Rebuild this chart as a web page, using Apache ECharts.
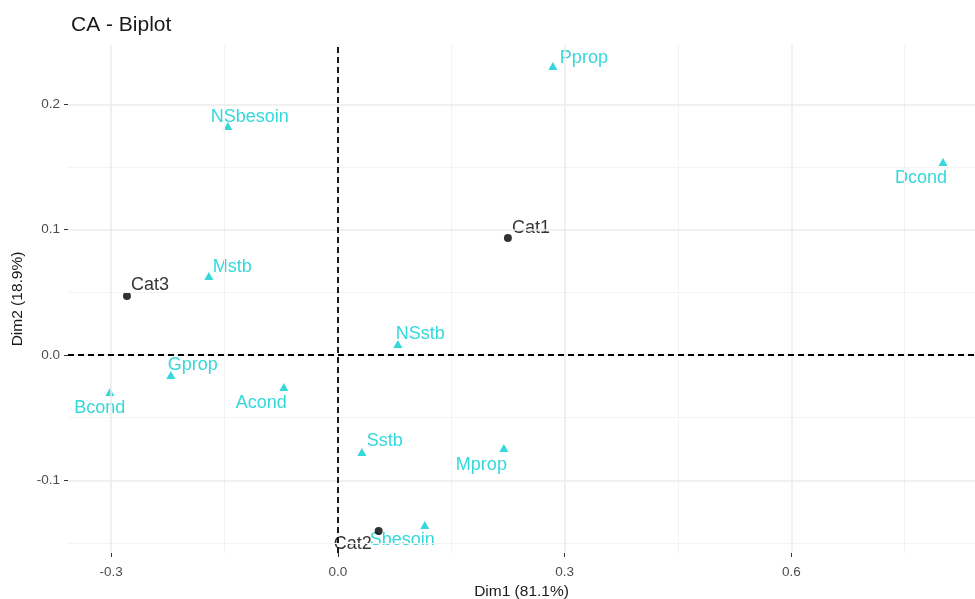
<!DOCTYPE html>
<html>
<head>
<meta charset="utf-8">
<script src="https://cdn.jsdelivr.net/npm/echarts@6/dist/echarts.min.js"></script>
<style>
	html, body { margin: 0; padding: 0; background: #fff; }
	#chart { width: 975px; height: 599px; }
</style>
</head>
<body>
<div id="chart"></div>
<script>
// row points (black)
var rowNames = ["Cat1", "Cat2", "Cat3"];
var rowDim1 = [0.225, 0.054, -0.279];
var rowDim2 = [0.0934, -0.1405, 0.047];

// column points (cyan)
var colNames = ["Pprop", "NSbesoin", "Dcond", "Mstb", "NSstb", "Gprop", "Bcond", "Acond", "Sstb", "Mprop", "Sbesoin"];
var colDim1 = [0.2845, -0.1456, 0.8007, -0.1707, 0.0794, -0.221, -0.3017, -0.0715, 0.0318, 0.2197, 0.1151];
var colDim2 = [0.2306, 0.1828, 0.154, 0.063, 0.0088, -0.016, -0.0295, -0.0255, -0.0774, -0.0742, -0.1357];

var xTicks = [-0.3, 0.0, 0.3, 0.6];
var yTicks = [-0.1, 0.0, 0.1, 0.2];
var xMinor = [-0.15, 0.15, 0.45, 0.75];
var yMinor = [-0.15, -0.05, 0.05, 0.15];

// label nudges (like ggrepel), px: [dx, dy, align]
var nudge = {
	Cat1: [4, -10, "left"],
	Cat2: [-7, 13, "right"],
	Cat3: [4, -11, "left"],
	Pprop: [7, -8, "left"],
	NSbesoin: [-17, -9, "left"],
	Dcond: [4, 16, "right"],
	Mstb: [4, -9, "left"],
	NSstb: [-2, -10, "left"],
	Gprop: [-3, -10, "left"],
	Bcond: [-10, 16, "center"],
	Acond: [3, 16, "right"],
	Sstb: [5, -11, "left"],
	Mprop: [3, 17, "right"],
	Sbesoin: [10, 15, "right"]
};

var myChart = echarts.init(document.getElementById("chart"));

function pts(names, d1, d2) {
	return names.map(function (n, i) {
		var o = nudge[n];
		return {
			name: n,
			value: [d1[i], d2[i]],
			label: { offset: [o[0], o[1]], align: o[2] }
		};
	});
}

var gridLines = [];
xMinor.forEach(function (v) { gridLines.push({ xAxis: v, lineStyle: { color: "#f3f3f3", width: 1, type: "solid" } }); });
yMinor.forEach(function (v) { gridLines.push({ yAxis: v, lineStyle: { color: "#f3f3f3", width: 1, type: "solid" } }); });
xTicks.forEach(function (v) { gridLines.push({ xAxis: v, lineStyle: { color: "#ebebeb", width: 1.5, type: "solid" } }); });
yTicks.forEach(function (v) { gridLines.push({ yAxis: v, lineStyle: { color: "#ebebeb", width: 1.5, type: "solid" } }); });

var option = {
	animation: false,
	title: {
		text: "CA - Biplot",
		left: 66,
		top: 10,
		textStyle: { fontFamily: "Liberation Sans", fontSize: 21, fontWeight: "normal", color: "#1a1a1a" }
	},
	grid: { left: 68, right: 0, top: 45, bottom: 46, containLabel: false, outerBoundsMode: "none" },
	xAxis: {
		type: "value",
		min: -0.357,
		max: 0.843,
		name: "Dim1 (81.1%)",
		nameLocation: "middle",
		nameGap: 30,
		nameTextStyle: { fontFamily: "Liberation Sans", fontSize: 15.5, color: "#1a1a1a" },
		axisLine: { show: false, onZero: false },
		splitLine: { show: false },
		axisTick: { show: true, length: 4, customValues: xTicks, lineStyle: { color: "#333" } },
		axisLabel: {
			customValues: xTicks,
			margin: 12,
			fontFamily: "Liberation Sans",
			fontSize: 13.5,
			color: "#4d4d4d",
			formatter: function (v) { return v.toFixed(1); }
		}
	},
	yAxis: {
		type: "value",
		min: -0.158,
		max: 0.2474,
		name: "Dim2 (18.9%)",
		nameLocation: "middle",
		nameGap: 37,
		nameTextStyle: { fontFamily: "Liberation Sans", fontSize: 15.5, color: "#1a1a1a" },
		axisLine: { show: false, onZero: false },
		splitLine: { show: false },
		axisTick: { show: true, length: 4, customValues: yTicks, lineStyle: { color: "#333" } },
		axisLabel: {
			customValues: yTicks,
			margin: 8,
			fontFamily: "Liberation Sans",
			fontSize: 13.5,
			color: "#4d4d4d",
			formatter: function (v) { return v.toFixed(1); }
		}
	},
	series: [
		{
			type: "scatter",
			data: [],
			silent: true,
			z: 0,
			markLine: {
				silent: true,
				symbol: "none",
				label: { show: false },
				data: gridLines
			}
		},
		{
			type: "scatter",
			data: [],
			silent: true,
			z: 1,
			markLine: {
				silent: true,
				symbol: "none",
				label: { show: false },
				lineStyle: { color: "#000", width: 1.8, type: [6, 4] },
				data: [{ xAxis: 0 }, { yAxis: 0 }]
			}
		},
		{
			name: "col",
			type: "scatter",
			symbol: "triangle",
			symbolSize: [9, 8],
			clip: false,
			z: 3,
			itemStyle: { color: "#00CED1" },
			label: {
				show: true,
				position: "inside",
				formatter: "{b}",
				verticalAlign: "middle",
				fontFamily: "Liberation Sans",
				fontSize: 18,
				color: "#00CED1"
			},
			data: pts(colNames, colDim1, colDim2)
		},
		{
			name: "row",
			type: "scatter",
			symbol: "circle",
			symbolSize: 8,
			clip: false,
			z: 4,
			itemStyle: { color: "#000" },
			label: {
				show: true,
				position: "inside",
				formatter: "{b}",
				verticalAlign: "middle",
				fontFamily: "Liberation Sans",
				fontSize: 18,
				color: "#000"
			},
			data: pts(rowNames, rowDim1, rowDim2)
		}
	]
};
myChart.setOption(option, true);
window.addEventListener("resize", function () {
	myChart.resize();
});
</script>
</body>
</html>
